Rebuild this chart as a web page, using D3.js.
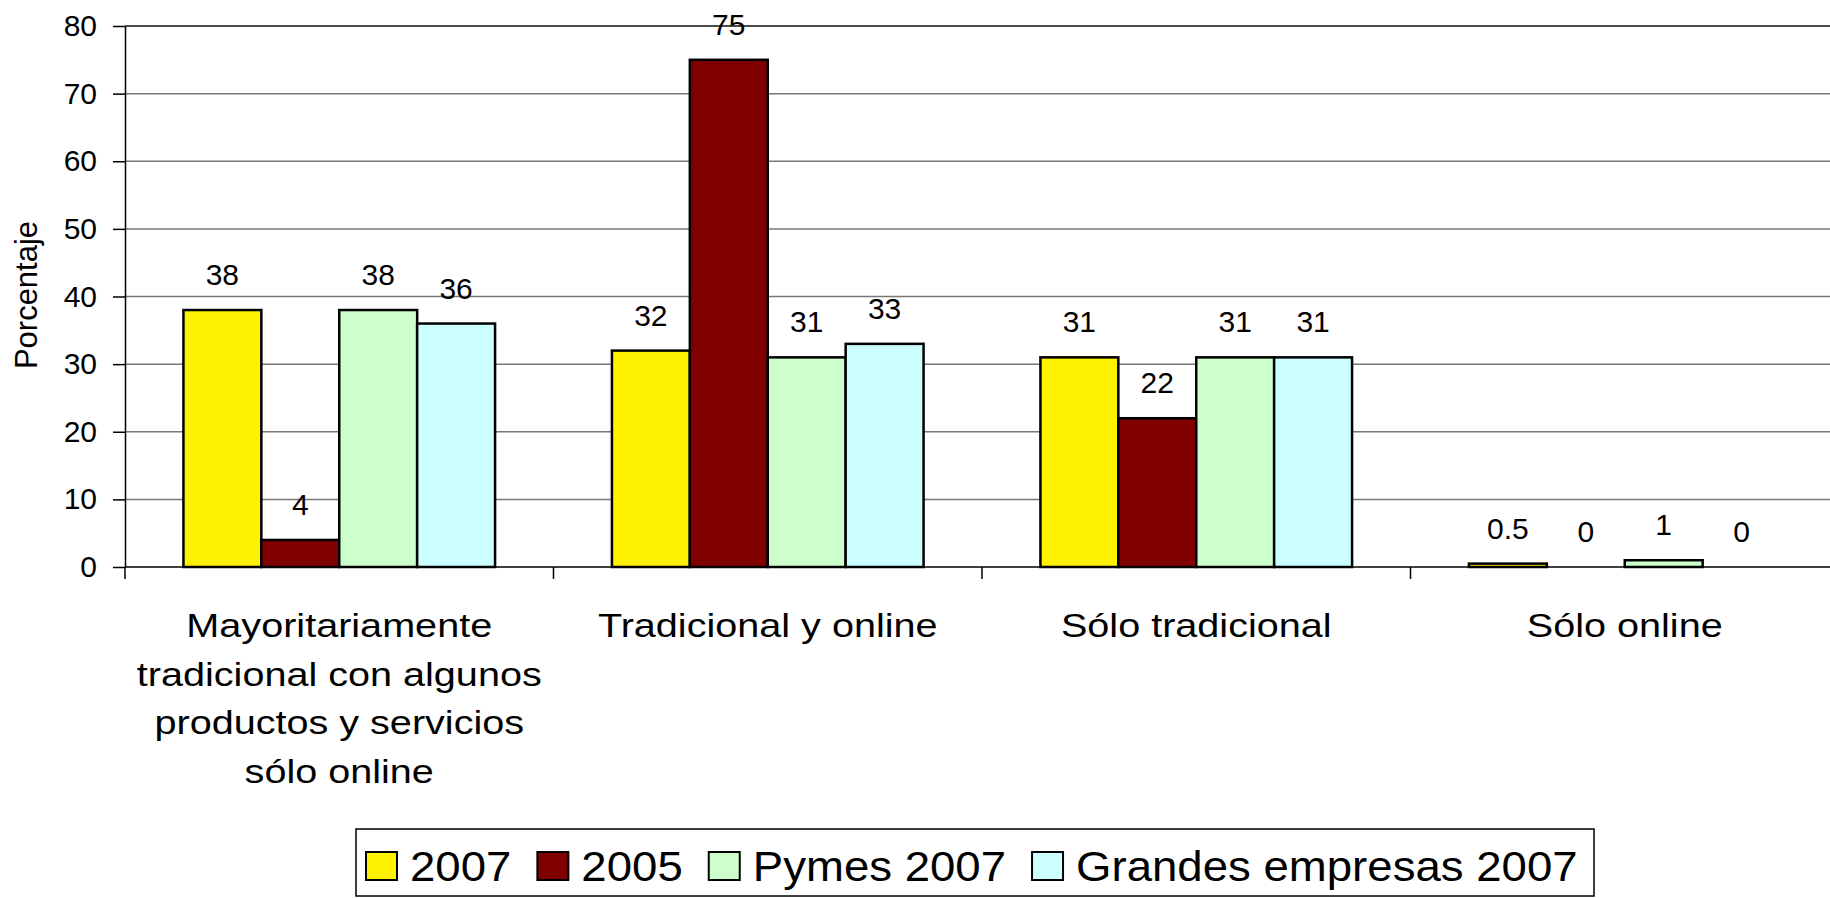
<!DOCTYPE html>
<html>
<head>
<meta charset="utf-8">
<script src="https://cdn.jsdelivr.net/npm/d3@7/dist/d3.min.js"></script>
<style>
	body { margin: 0; background: #fff; }
	text { font-family: "Liberation Sans", Arial, sans-serif; fill: #000; }
</style>
</head>
<body>
<svg id="chart" width="1830" height="898"></svg>
<script>

var categories = [
	"Mayoritariamente\ntradicional con algunos\nproductos y servicios\nsólo online",
	"Tradicional y online",
	"Sólo tradicional",
	"Sólo online"
];
var seriesNames = ["2007", "2005", "Pymes 2007", "Grandes empresas 2007"];
var values2007 = [38, 32, 31, 0.5];
var values2005 = [4, 75, 22, 0];
var valuesPymes2007 = [38, 31, 31, 1];
var valuesGrandes2007 = [36, 33, 31, 0];
var yTicks = [0, 10, 20, 30, 40, 50, 60, 70, 80];
var yTitle = "Porcentaje";

var colors = ["#FFF200", "#800000", "#CCFFCC", "#CCFFFF"];

var seriesValues = [values2007, values2005, valuesPymes2007, valuesGrandes2007];

var w = 1830;
var h = 898;
var left = 125;
var bandW = 428.5;

var svg = d3.select("#chart");

var x0 = d3.scaleBand()
	.domain(categories)
	.range([left, left + bandW * categories.length]);

var x1 = d3.scaleBand()
	.domain(seriesNames)
	.range([0, x0.bandwidth()])
	.paddingOuter(0.75);

var y = d3.scaleLinear()
	.domain([0, 80])
	.range([567, 26]);

// gridlines
svg.selectAll("line.grid")
	.data(yTicks.filter(function(d){ return d > 0; }))
	.enter()
	.append("line")
	.attr("class", "grid")
	.attr("x1", left)
	.attr("x2", w)
	.attr("y1", function(d){ return y(d); })
	.attr("y2", function(d){ return y(d); })
	.attr("stroke", function(d){ return d == 80 ? "#111" : "#777"; })
	.attr("stroke-width", 1.5);

// y axis
var yAxis = svg.append("g")
	.attr("transform", "translate(" + left + ",0)")
	.call(d3.axisLeft(y).tickValues(yTicks).tickSize(12).tickPadding(16).tickSizeOuter(0));
yAxis.select(".domain").attr("stroke", "#000").attr("stroke-width", 1.5);
yAxis.selectAll(".tick line").attr("stroke", "#000").attr("stroke-width", 1.5);
yAxis.selectAll(".tick text")
	.style("font-size", "30px")
	.attr("fill", "#000")
	.style("font-family", "'Liberation Sans', Arial, sans-serif");

// x axis line and category boundary ticks
svg.append("line")
	.attr("x1", left)
	.attr("x2", w)
	.attr("y1", y(0))
	.attr("y2", y(0))
	.attr("stroke", "#000")
	.attr("stroke-width", 1.5);

svg.selectAll("line.catTick")
	.data(categories)
	.enter()
	.append("line")
	.attr("class", "catTick")
	.attr("x1", function(d){ return x0(d); })
	.attr("x2", function(d){ return x0(d); })
	.attr("y1", y(0))
	.attr("y2", y(0) + 12)
	.attr("stroke", "#000")
	.attr("stroke-width", 1.5);

// bars
var groups = svg.selectAll("g.cat")
	.data(categories)
	.enter()
	.append("g")
	.attr("class", "cat")
	.attr("transform", function(d){ return "translate(" + x0(d) + ",0)"; });

groups.selectAll("rect")
	.data(function(d, i){
		return seriesNames.map(function(s, j){ return {s: s, v: seriesValues[j][i], c: colors[j]}; });
	})
	.enter()
	.append("rect")
	.attr("x", function(d){ return x1(d.s); })
	.attr("width", x1.bandwidth())
	.attr("y", function(d){ return y(d.v); })
	.attr("height", function(d){ return y(0) - y(d.v); })
	.attr("fill", function(d){ return d.c; })
	.attr("stroke", "#000")
	.attr("stroke-width", 2.5);

groups.selectAll("text.val")
	.data(function(d, i){
		return seriesNames.map(function(s, j){ return {s: s, v: seriesValues[j][i]}; });
	})
	.enter()
	.append("text")
	.attr("class", "val")
	.attr("x", function(d){ return x1(d.s) + x1.bandwidth() / 2; })
	.attr("y", function(d){ return y(d.v) - 25; })
	.attr("text-anchor", "middle")
	.style("font-size", "30px")
	.text(function(d){ return d.v; });

// category labels
var catLabels = svg.selectAll("text.catLabel")
	.data(categories)
	.enter()
	.append("text")
	.attr("class", "catLabel")
	.attr("text-anchor", "middle")
	.attr("transform", function(d){ return "translate(" + (x0(d) + x0.bandwidth() / 2) + ",637) scale(1.2,1)"; })
	.style("font-size", "33px");

catLabels.selectAll("tspan")
	.data(function(d){ return d.split("\n"); })
	.enter()
	.append("tspan")
	.attr("x", 0)
	.attr("dy", function(d, i){ return i == 0 ? 0 : 48.7; })
	.text(function(d){ return d; });

// y title
svg.append("text")
	.attr("transform", "translate(37,295) rotate(-90)")
	.attr("text-anchor", "middle")
	.style("font-size", "31px")
	.text(yTitle);

// legend
var legend = svg.append("g");

legend.append("rect")
	.attr("x", 356)
	.attr("y", 829)
	.attr("width", 1238)
	.attr("height", 67)
	.attr("fill", "#fff")
	.attr("stroke", "#000")
	.attr("stroke-width", 1.5);

var lx = 366;
seriesNames.forEach(function(s, i){
	legend.append("rect")
		.attr("x", lx)
		.attr("y", 852)
		.attr("width", 31)
		.attr("height", 28)
		.attr("fill", colors[i])
		.attr("stroke", "#000")
		.attr("stroke-width", 2);
	var t = legend.append("text")
		.attr("transform", "translate(" + (lx + 44) + ",881) scale(1.06,1)")
		.style("font-size", "43px")
		.text(s);
	lx = lx + 44 + t.node().getComputedTextLength() * 1.06 + 26;
});

</script>
</body>
</html>
